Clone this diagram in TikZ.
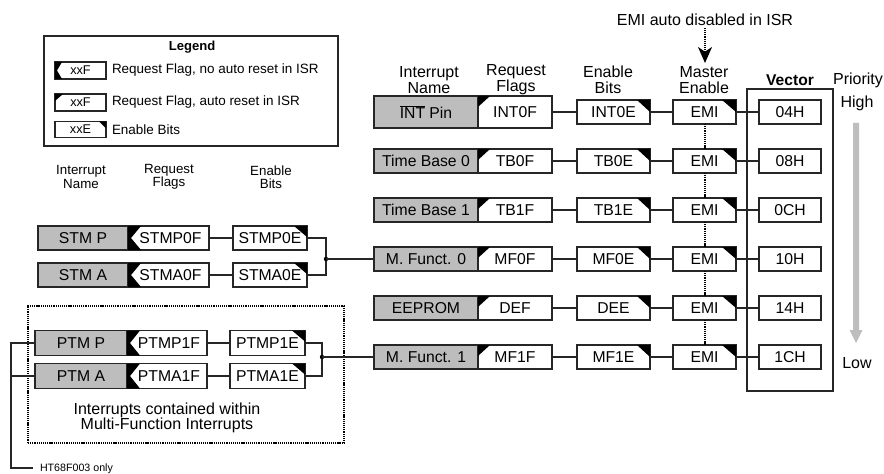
\documentclass[tikz,border=0pt]{standalone}
\usepackage{fontspec}
\setmainfont{Liberation Sans}
\usetikzlibrary{arrows.meta,calc}
\newcommand{\myfs}[1]{\fontsize{#1}{#1}\selectfont}
\newcommand{\cTL}[3]{\fill (#1.north west) -- ++(#2,0) -- ++(-#2,#3) -- cycle;}
\newcommand{\cTR}[3]{\fill (#1.north east) -- ++(-#2,0) -- ++(#2,#3) -- cycle;}
\newcommand{\cLN}[3]{\fill (#1.north west) -- ++(#2,0) -- ($(#1.west)+(#3,0)$) -- ($(#1.south west)+(#2,0)$) -- (#1.south west) -- cycle;}
\definecolor{gfill}{HTML}{BDBDBD}
\definecolor{parrow}{HTML}{BEBEBE}
\definecolor{lc}{HTML}{262626}
\begin{document}
\begin{tikzpicture}[x=0.75pt,y=-0.75pt,line width=0.8pt,draw=lc,
  every node/.style={inner sep=0pt,outer sep=0pt},
  bx/.style 2 args={draw=lc,fill=white,minimum width={#1*0.75pt},minimum height={#2*0.75pt},font=\myfs{11.8}},
  gbx/.style 2 args={bx={#1}{#2},fill=gfill},
  hdr/.style={align=center,font=\fontsize{12}{12}\selectfont},
  shdr/.style={align=center,font=\fontsize{10}{10}\selectfont},
  dotl/.style={dash pattern=on 0.9pt off 0.7pt,line width=1.5pt,draw=black}]
\useasboundingbox (0,0) rectangle (884,474);
\fill[white] (0,0) rectangle (884,474);

% ---------------- Legend
\node[draw=lc,minimum width={294*0.75pt},minimum height={110*0.75pt}] (leg) at (191,91) {};
\node[font=\bfseries\myfs{9.8}] (legt) at (192,47) {Legend};
\node[bx={51}{17},font=\myfs{9.5}] (l1) at (80.5,70.5) {xxF};
\node[bx={51}{17},font=\myfs{9.5}] (l2) at (80.5,102.5) {xxF};
\node[bx={51}{16},font=\myfs{9.5}] (l3) at (80.5,129.5) {xxE};
\cLN{l1}{7}{2}
\cTL{l2}{8}{7}
\cTR{l3}{7}{7}
\node[anchor=west,font=\myfs{10.1}] (lt1) at (112,70.5) {Request Flag, no auto reset in ISR};
\node[anchor=west,font=\myfs{10.1}] (lt2) at (112,102.5) {Request Flag, auto reset in ISR};
\node[anchor=west,font=\myfs{10.1}] (lt3) at (112,129.5) {Enable Bits};

% ---------------- Left headers
\node[shdr] (lh1) at (81,177) {Interrupt\\Name};
\node[shdr] (lh2) at (169,177) {Request\\Flags};
\node[shdr] (lh3) at (271,177) {Enable\\Bits};

% ---------------- STM group
\node[gbx={90}{24}] (sp) at (83,238) {STM P};
\node[bx={81}{24}] (spf) at (168.5,238) {\hspace*{3pt}STMP0F};
\node[bx={74}{24}] (spe) at (270,238) {STMP0E};
\node[gbx={90}{24}] (sa) at (83,275) {STM A};
\node[bx={81}{24}] (saf) at (168.5,275) {\hspace*{3pt}STMA0F};
\node[bx={74}{24}] (sae) at (270,275) {STMA0E};
\cLN{spf}{13}{3}
\cLN{saf}{13}{3}
\cTR{spe}{13}{11}
\cTR{sae}{13}{11}
\coordinate (J1) at (326,259);
\draw (spf.east) -- (spe.west);
\draw (saf.east) -- (sae.west);
\draw (spe.east) -| (J1) |- (sae.east);
\fill[black] (J1) circle (2.2);

% ---------------- PTM group
\node[draw=black,dash pattern=on 0.9pt off 0.7pt,line width=1.5pt,minimum width={316*0.75pt},minimum height={137*0.75pt}] (grp) at (186,374.5) {};
\node[gbx={92}{25}] (pp) at (81,343) {PTM P};
\node[bx={80}{25}] (ppf) at (167,343) {\hspace*{3pt}PTMP1F};
\node[bx={75}{25}] (ppe) at (267.5,343) {PTMP1E};
\node[gbx={92}{25}] (pa) at (81,376) {PTM A};
\node[bx={80}{25}] (paf) at (167,376) {\hspace*{3pt}PTMA1F};
\node[bx={75}{25}] (pae) at (267.5,376) {PTMA1E};
\cLN{ppf}{13}{3}
\cLN{paf}{13}{3}
\cTR{ppe}{13}{11}
\cTR{pae}{13}{11}
\coordinate (J2) at (322,357);
\draw (ppf.east) -- (ppe.west);
\draw (paf.east) -- (pae.west);
\draw (ppe.east) -| (J2) |- (pae.east);
\fill[black] (J2) circle (2.2);
\node[align=center,font=\fontsize{12}{11.5}\selectfont] (gtxt) at (167,418) {Interrupts contained within\\Multi-Function Interrupts};

% left bus
\coordinate (bb) at (11,468);
\coordinate (be) at (33,468);
\draw (pp.west) -| (bb) -- (be);
\draw (pa.west) -- (pa.west -| bb);
\node[anchor=west,font=\myfs{8}] (ht) at (40,468.5) {HT68F003 only};

% ---------------- Right headers
\node[font=\myfs{12}] (emil) at (705,20) {EMI auto disabled in ISR};
\coordinate (emiar) at (705,63);
\draw[dash pattern=on 0.9pt off 0.7pt,line width=1.5pt,draw=black,-{Stealth[length=12pt,width=10.5pt,inset=3.5pt]}] ($(emil.south)+(0,2)$) -- (emiar);
\node[hdr] (rh1) at (429,80) {Interrupt\\Name};
\node[hdr] (rh2) at (516,80) {Request\\Flags};
\node[hdr] (rh3) at (608,80) {Enable\\Bits};
\node[hdr] (rh4) at (704,80) {Master\\Enable};
\node[font=\bfseries\myfs{11.7}] (vect) at (790,80) {Vector};
\node[font=\myfs{12}] (prio) at (858,80) {Priority};
\node[font=\myfs{12}] (high) at (857,103) {High};
\node[font=\myfs{12}] (low) at (857,363) {Low};
\fill[parrow] (853,123) -- (859,123) -- (859,330) -- (862.5,330) -- (856,343) -- (849.5,330) -- (853,330) -- cycle;

% vector frame
\node[draw=lc,minimum width={86*0.75pt},minimum height={302*0.75pt}] (vf) at (790,240) {};

% ---------------- Right rows
\node[gbx={104}{32}] (n1) at (426,112) {$\overline{\hbox{INT}}$ Pin};
\node[bx={74}{32}] (f1) at (515,112) {INT0F};
\node[bx={73}{24}] (e1) at (613.5,112) {INT0E};
\node[bx={63}{24}] (m1) at (704.5,112) {EMI};
\node[bx={62}{24}] (v1) at (790,112) {04H};
\foreach \i/\y/\nm/\fl/\en/\vc in {2/161/Time Base 0/TB0F/TB0E/08H,
    3/210/Time Base 1/TB1F/TB1E/0CH,
    4/259/M. Funct. 0/MF0F/MF0E/10H,
    5/308/EEPROM/DEF/DEE/14H,
    6/357/M. Funct. 1/MF1F/MF1E/1CH}{
  \node[gbx={104}{24}] (n\i) at (426,\y) {\nm};
  \node[bx={74}{24}] (f\i) at (515,\y) {\fl};
  \node[bx={73}{24}] (e\i) at (613.5,\y) {\en};
  \node[bx={63}{24}] (m\i) at (704.5,\y) {EMI};
  \node[bx={62}{24}] (v\i) at (790,\y) {\vc};
}
\foreach \i in {1,...,6}{
  \cTL{f\i}{12}{11}
  \cTR{e\i}{13}{12}
  \cTR{m\i}{14}{12}
  \draw (f\i.east) -- (e\i.west);
  \draw (e\i.east) -- (m\i.west);
  \draw (m\i.east) -- (v\i.west);
}
\foreach \i/\j in {1/2,2/3,3/4,4/5,5/6}{
  \draw[dotl] (m\i.south) -- (m\j.north);
}
\draw (J1) -- (n4.west);
\draw (J2) -- (n6.west);
\end{tikzpicture}
\end{document}
